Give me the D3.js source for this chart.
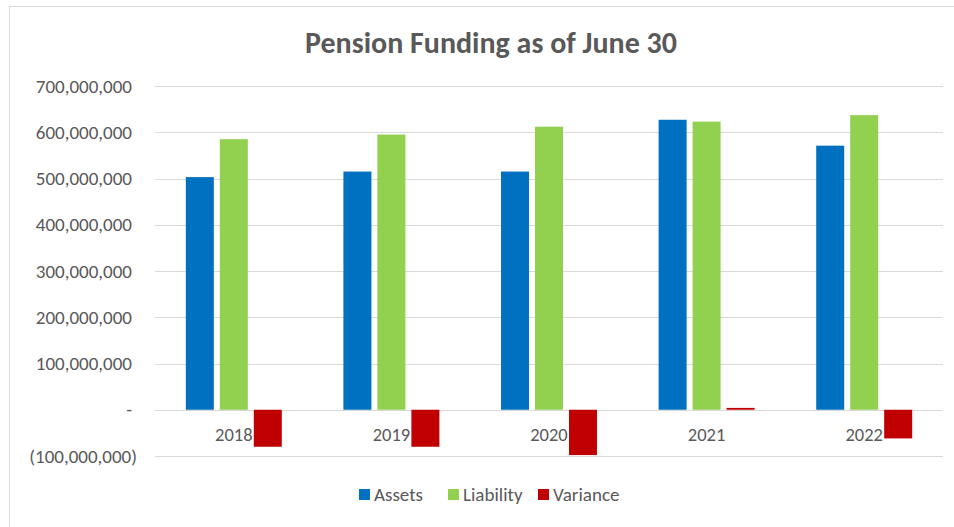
<!DOCTYPE html>
<head>
    <meta charset="utf-8">
    <title>Pension Funding as of June 30</title>
    <script src="https://cdn.jsdelivr.net/npm/d3@7"></script>
</head>

<body style="margin:0;background:#fff">

<div id="container"></div>

<script type="text/javascript">
    // chart values
    const years = ["2018", "2019", "2020", "2021", "2022"];
    const seriesNames = ["Assets", "Liability", "Variance"];
    const assets = [503000000, 515000000, 515000000, 627000000, 571000000];
    const liability = [585000000, 595000000, 612000000, 623000000, 637000000];
    const variance = [-80000000, -80000000, -98000000, 4000000, -62000000];
    const yTicks = [-100000000, 0, 100000000, 200000000, 300000000, 400000000, 500000000, 600000000, 700000000];

    const width = 954, height = 527;
    const plot = {left: 155, right: 943, top: 86, bottom: 456};
    const font = "Carlito, Calibri, Lato, sans-serif";
    const textColor = "#595959";

    const color = d3.scaleOrdinal()
        .domain(seriesNames)
        .range(["#0070C0", "#92D050", "#C00000"]);

    const svg = d3.select("#container")
        .append("svg")
        .attr("width", width)
        .attr("height", height)
        .style("display", "block");

    // chart frame (top and left edges are what show)
    svg.append("rect")
        .attr("x", 9.5).attr("y", 6.5)
        .attr("width", width + 10).attr("height", height + 10)
        .attr("fill", "#fff")
        .attr("stroke", "#d9d9d9");

    const y = d3.scaleLinear()
        .domain([-100000000, 700000000])
        .range([plot.bottom, plot.top]);

    const x0 = d3.scaleBand()
        .domain(years)
        .range([plot.left, plot.right])
        .paddingInner(0.391)
        .paddingOuter(0.1955);

    const x1 = d3.scaleBand()
        .domain(seriesNames)
        .range([0, x0.bandwidth()])
        .paddingInner(0.176);

    // gridlines
    svg.append("g")
        .selectAll("line")
        .data(yTicks)
        .join("line")
        .attr("x1", plot.left)
        .attr("x2", plot.right)
        .attr("y1", d => Math.round(y(d)) + 0.5)
        .attr("y2", d => Math.round(y(d)) + 0.5)
        .attr("stroke", "#d9d9d9")
        .attr("stroke-width", 1);

    // y labels, accounting style
    const fmt = d3.format(",");
    svg.append("g")
        .selectAll("text")
        .data(yTicks)
        .join("text")
        .attr("x", d => d < 0 ? 137 : 132)
        .attr("y", d => y(d))
        .attr("dy", "0.35em")
        .attr("text-anchor", "end")
        .style("font-family", font)
        .style("font-size", "19px")
        .style("fill", textColor)
        .text(d => d === 0 ? "-" : d < 0 ? "(" + fmt(-d) + ")" : fmt(d));

    // category labels sit under the zero line, bars are drawn over them
    svg.append("g")
        .selectAll("text")
        .data(years)
        .join("text")
        .attr("x", d => x0(d) + x0.bandwidth() / 2)
        .attr("y", y(0) + 31)
        .attr("text-anchor", "middle")
        .style("font-family", font)
        .style("font-size", "18.5px")
        .style("fill", textColor)
        .text(d => d);

    const rows = years.map((yr, i) => ({
        year: yr,
        values: [
            {key: "Assets", v: assets[i]},
            {key: "Liability", v: liability[i]},
            {key: "Variance", v: variance[i]}
        ]
    }));

    svg.append("g")
        .selectAll("g")
        .data(rows)
        .join("g")
        .attr("transform", d => `translate(${x0(d.year)},0)`)
        .selectAll("rect")
        .data(d => d.values)
        .join("rect")
        .attr("x", d => x1(d.key))
        .attr("y", d => y(Math.max(0, d.v)))
        .attr("width", x1.bandwidth())
        .attr("height", d => Math.abs(y(d.v) - y(0)))
        .attr("fill", d => color(d.key));

    // title
    svg.append("text")
        .attr("x", 491)
        .attr("y", 53)
        .attr("text-anchor", "middle")
        .style("font-family", font)
        .style("font-size", "30px")
        .style("font-weight", "bold")
        .style("fill", textColor)
        .text("Pension Funding as of June 30");

    // legend
    const legendX = [359, 448, 538];
    const legend = svg.append("g")
        .selectAll("g")
        .data(seriesNames)
        .join("g")
        .attr("transform", (d, i) => `translate(${legendX[i]},489)`);
    legend.append("rect")
        .attr("width", 11)
        .attr("height", 11)
        .attr("fill", d => color(d));
    legend.append("text")
        .attr("x", 15)
        .attr("y", 11.5)
        .style("font-family", font)
        .style("font-size", "19px")
        .style("fill", textColor)
        .text(d => d);
</script>
</body>
